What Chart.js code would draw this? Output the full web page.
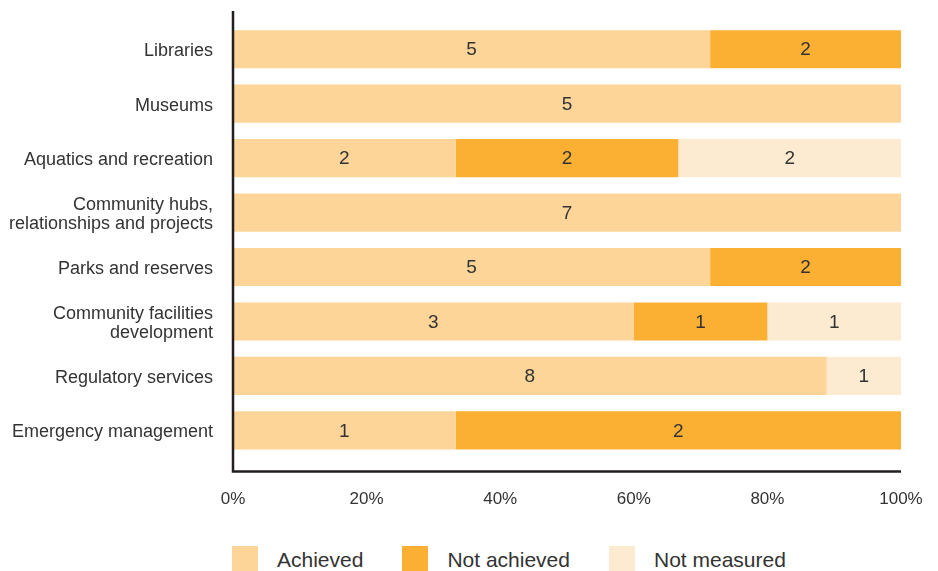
<!DOCTYPE html>
<html>
<head>
<meta charset="utf-8">
<script src="https://cdn.jsdelivr.net/npm/chart.js@4"></script>
<style>
  body { margin: 0; background: #fff; }
  #wrap { position: relative; width: 938px; height: 571px; overflow: hidden; font-family: "Liberation Sans", Arial, sans-serif; }
  #legend { position: absolute; left: 232px; top: 546px; display: flex; color: #333; font-size: 21px; }
  .item { display: flex; align-items: center; margin-right: 39px; }
  .box { width: 26px; height: 27px; margin-right: 19px; }
</style>
</head>
<body>
<div id="wrap">
  <canvas id="myChart" width="938" height="530"></canvas>
  <div id="legend"></div>
</div>
<script>
const categories = [
  "Libraries",
  "Museums",
  "Aquatics and recreation",
  ["Community hubs,", "relationships and projects"],
  "Parks and reserves",
  ["Community facilities", "development"],
  "Regulatory services",
  "Emergency management"
];
const achieved = [5, 5, 2, 7, 5, 3, 8, 1];
const notAchieved = [2, 0, 2, 0, 2, 1, 0, 2];
const notMeasured = [0, 0, 2, 0, 0, 1, 1, 0];
const xTicks = [0, 20, 40, 60, 80, 100];

const seriesNames = ["Achieved", "Not achieved", "Not measured"];
const colors = ["#fdd598", "#fbb034", "#fdebd1"];
const counts = [achieved, notAchieved, notMeasured];

const totals = categories.map((c, i) => achieved[i] + notAchieved[i] + notMeasured[i]);
const pct = (arr) => arr.map((v, i) => v / totals[i] * 100);

const data = {
  labels: categories,
  datasets: counts.map((arr, k) => ({
    label: seriesNames[k],
    data: pct(arr),
    counts: arr,
    backgroundColor: colors[k],
    borderWidth: 0,
    categoryPercentage: 1,
    barPercentage: 0.7
  }))
};

const barLabels = {
  id: "barLabels",
  afterDatasetsDraw(chart) {
    const ctx = chart.ctx;
    ctx.save();
    ctx.font = "19px 'Liberation Sans', Arial, sans-serif";
    ctx.fillStyle = "#333";
    ctx.textAlign = "center";
    ctx.textBaseline = "middle";
    chart.data.datasets.forEach((ds, k) => {
      chart.getDatasetMeta(k).data.forEach((bar, i) => {
        if (!ds.counts[i]) return;
        ctx.fillText(ds.counts[i], (bar.x + bar.base) / 2, bar.y + 1);
      });
    });
    ctx.restore();
  }
};

const axisLines = {
  id: "axisLines",
  afterDraw(chart) {
    const a = chart.chartArea;
    const ctx = chart.ctx;
    ctx.save();
    ctx.strokeStyle = "#231f20";
    ctx.lineWidth = 2.5;
    ctx.beginPath();
    ctx.moveTo(a.left, a.top - 11);
    ctx.lineTo(a.left, a.bottom + 14);
    ctx.lineTo(a.right, a.bottom + 14);
    ctx.stroke();
    ctx.restore();
  }
};

const config = {
  type: "bar",
  data: data,
  options: {
    indexAxis: "y",
    responsive: false,
    animation: false,
    layout: { padding: { top: 22, right: 37, left: 0, bottom: 0 } },
    plugins: { legend: { display: false }, tooltip: { enabled: false } },
    scales: {
      x: {
        stacked: true,
        min: 0,
        max: 100,
        afterFit: (s) => { s.height = 72.4; s.paddingLeft = 0; s.paddingRight = 0; },
        afterBuildTicks: (s) => { s.ticks = xTicks.map(v => ({ value: v })); },
        grid: { display: false, drawTicks: false },
        border: { display: false },
        ticks: {
          padding: 32,
          color: "#333",
          font: { family: "'Liberation Sans', Arial, sans-serif", size: 17 },
          callback: (v) => v + "%"
        }
      },
      y: {
        stacked: true,
        afterFit: (s) => { s.width = 233; s.paddingTop = 0; s.paddingBottom = 0; },
        grid: { display: false, drawTicks: false },
        border: { display: false },
        ticks: {
          padding: 20,
          labelOffset: 2,
          color: "#333",
          font: { family: "'Liberation Sans', Arial, sans-serif", size: 18, lineHeight: 1.08 }
        }
      }
    }
  },
  plugins: [barLabels, axisLines]
};
var myChart = new Chart(document.getElementById("myChart"), config);

var legend = document.getElementById("legend");
seriesNames.forEach((name, k) => {
  legend.innerHTML += "<div class='item'><div class='box' style='background:" + colors[k] + "'></div><span>" + name + "</span></div>";
});
</script>
</body>
</html>
